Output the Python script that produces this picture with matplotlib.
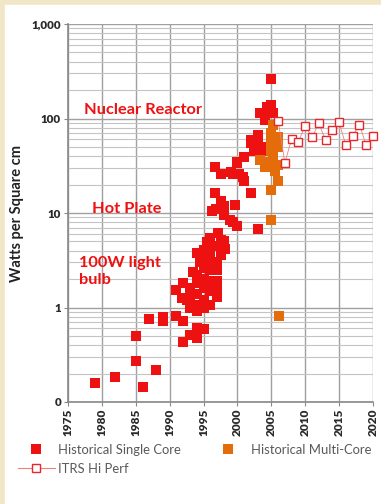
import numpy as np
import matplotlib
matplotlib.use("Agg")
import matplotlib.pyplot as plt
from matplotlib.ticker import FixedLocator, LogLocator, NullFormatter
from matplotlib.lines import Line2D

plt.rcParams['font.family'] = ['Lato', 'DejaVu Sans']

# Historical single core (year, W/cm^2)
single_year = [1979, 1982, 1985, 1985, 1986, 1988, 1987, 1989, 1989, 1991,
               1992, 1992, 1993, 1994, 1994, 1995,
               1991, 1992, 1991.8, 1992.5, 1993, 1993, 1993.5, 1993, 1994, 1994,
               1994, 1994, 1994, 1994.5, 1994, 1995, 1995, 1995, 1995, 1995,
               1995, 1995, 1995.5, 1996, 1996, 1996, 1996, 1996, 1996, 1996,
               1996, 1997, 1997, 1997, 1997, 1997, 1997.5, 1997, 1997.2, 1997.5,
               1998.2, 1998,
               1996.7, 1996.8, 1996.3, 1997.5, 1998, 1998, 1998.9, 1999.9, 1999.7,
               1999.4, 1996.7, 1997.5, 1999, 1999.4, 2000, 2001, 2001, 2002,
               2000.8, 2002, 2003, 2003.8, 2002, 2003, 2003.8, 2003, 2004, 2003.3,
               2004.3, 2005, 2005.3, 2005, 2004.5, 2005, 2002.5, 2000, 2000.3]
single_val = [0.158, 0.185, 0.27, 0.5, 0.145, 0.218, 0.75, 0.8, 0.72, 0.81,
              0.72, 0.43, 0.51, 0.47, 0.6, 0.59,
              1.53, 1.83, 1.25, 1.2, 1.0, 1.3, 2.4, 1.6, 0.92, 1.05,
              1.4, 1.8, 2.2, 3.05, 3.8, 1.0, 1.2, 1.6, 2.0, 2.6,
              3.2, 4.1, 4.9, 1.05, 1.5, 1.9, 2.5, 3.1, 3.7, 4.4,
              5.5, 1.3, 1.55, 1.9, 2.5, 3.0, 3.6, 4.5, 6.1, 5.2,
              4.2, 5.0,
              16.2, 11, 10.5, 13.5, 12, 9.5, 8.5, 7.2, 12.2,
              8.1, 31, 26, 27, 26, 35, 39, 22, 16.3,
              24, 59, 67, 50, 55, 55, 45, 6.8, 96, 113,
              133, 140, 113, 260, 120, 125, 45, 34, 26]

# Historical multi-core
multi_year = [2005.2, 2006, 2005, 2005, 2003.3, 2004.3, 2006, 2005.3, 2006,
              2005, 2005, 2006.2, 2004, 2005, 2006, 2005.5, 2004.6]
multi_val = [85, 64, 57, 45, 36, 35, 32, 39, 22, 17.5, 8.4, 0.81, 31, 70, 50,
             28, 33]

# ITRS Hi Perf projection
itrs_year = list(range(2006, 2021))
itrs_val = [95, 34, 61, 57, 84, 63, 89, 59, 75, 91, 52, 65, 86, 52, 65]

year_ticks = list(range(1975, 2021, 5))
y_ticks = [0.1, 1, 10, 100, 1000]
y_labels = ['0', '1', '10', '100', '1,000']

red = '#ee1111'
orange = '#e46c0a'
grey_text = '#595959'
ms = 6.6

fig = plt.figure(figsize=(3.81, 5.04), dpi=100, facecolor='#f1e6c6')
# white panel
fig.patches.append(plt.Rectangle((5 / 381, 0), 1, 1 - 5 / 504,
                                 transform=fig.transFigure, color='white',
                                 zorder=-10))
ax = fig.add_axes([68 / 381, 1 - 402 / 504, 305 / 381, 378 / 504])
ax.set_facecolor('white')

ax.set_yscale('log')
ax.set_xlim(1975, 2020)
ax.set_ylim(0.1, 1000)

ax.plot(single_year, single_val, 's', color=red, ms=ms, mec=red, mew=0,
        zorder=3, clip_on=False)
ax.plot(multi_year, multi_val, 's', color=orange, ms=ms, mec=orange, mew=0,
        zorder=4, clip_on=False)
ax.plot(itrs_year, itrs_val, '-', color='#f08080', lw=0.6, zorder=5,
        clip_on=False)
ax.plot(itrs_year, itrs_val, 's', mfc='white', mec='#e8262b', ms=ms - 0.6,
        mew=1.0, ls='none', zorder=6, clip_on=False)

ax.xaxis.set_major_locator(FixedLocator(year_ticks))
ax.set_xticklabels([str(y) for y in year_ticks], rotation=90,
                   fontsize=8.5, fontweight='heavy', color='#2a2a2a')
ax.yaxis.set_major_locator(FixedLocator(y_ticks))
ax.set_yticklabels(y_labels, fontsize=8.3, fontweight='heavy', color='#2a2a2a')
ax.yaxis.set_minor_locator(LogLocator(base=10, subs=np.arange(2, 10)))
ax.yaxis.set_minor_formatter(NullFormatter())

ax.grid(True, which='major', axis='both', color='#a0a0a0', lw=1.0)
ax.grid(True, which='minor', axis='y', color='#c4c4c4', lw=0.8)
ax.set_axisbelow(True)
ax.tick_params(axis='both', which='major', length=3, color='#888888',
               pad=2)
ax.tick_params(axis='y', which='minor', length=0)
for side in ['top', 'right']:
    ax.spines[side].set_visible(False)
for side in ['left', 'bottom']:
    ax.spines[side].set_color('#888888')
    ax.spines[side].set_linewidth(1.2)

ax.set_ylabel('Watts per Square cm', fontsize=10.5, fontweight='bold',
              color='#222222', labelpad=5)

ax.text(1986.1, 123, 'Nuclear Reactor', color=red, fontsize=11.8,
        fontweight='bold', ha='center', va='center')
ax.text(1983.7, 11, 'Hot Plate', color=red, fontsize=11.8,
        fontweight='bold', ha='center', va='center')
ax.text(1976.6, 2.4, '100W light\nbulb', color=red, fontsize=11.8,
        fontweight='bold', ha='left', va='center', linespacing=1.3)

handles = [
    Line2D([], [], marker='s', ls='none', color=red, ms=ms, mew=0),
    Line2D([], [], marker='s', color='#f08080', lw=0.8, mfc='white',
           mec='#e8262b', ms=ms - 0.6, mew=1.0),
    Line2D([], [], marker='s', ls='none', color=orange, ms=ms, mew=0),
]
labels = ['Historical Single Core', 'ITRS Hi Perf', 'Historical Multi-Core']
leg = fig.legend(handles, labels, loc='upper left', ncol=2,
                 bbox_to_anchor=(18 / 381, 1 - 444 / 504), frameon=False,
                 fontsize=9.4, handlelength=2.8, handletextpad=0.3,
                 columnspacing=2.2, borderpad=0, borderaxespad=0,
                 labelspacing=0.5)
for t in leg.get_texts():
    t.set_color(grey_text)

fig.savefig('out.png', dpi=100, facecolor=fig.get_facecolor())
